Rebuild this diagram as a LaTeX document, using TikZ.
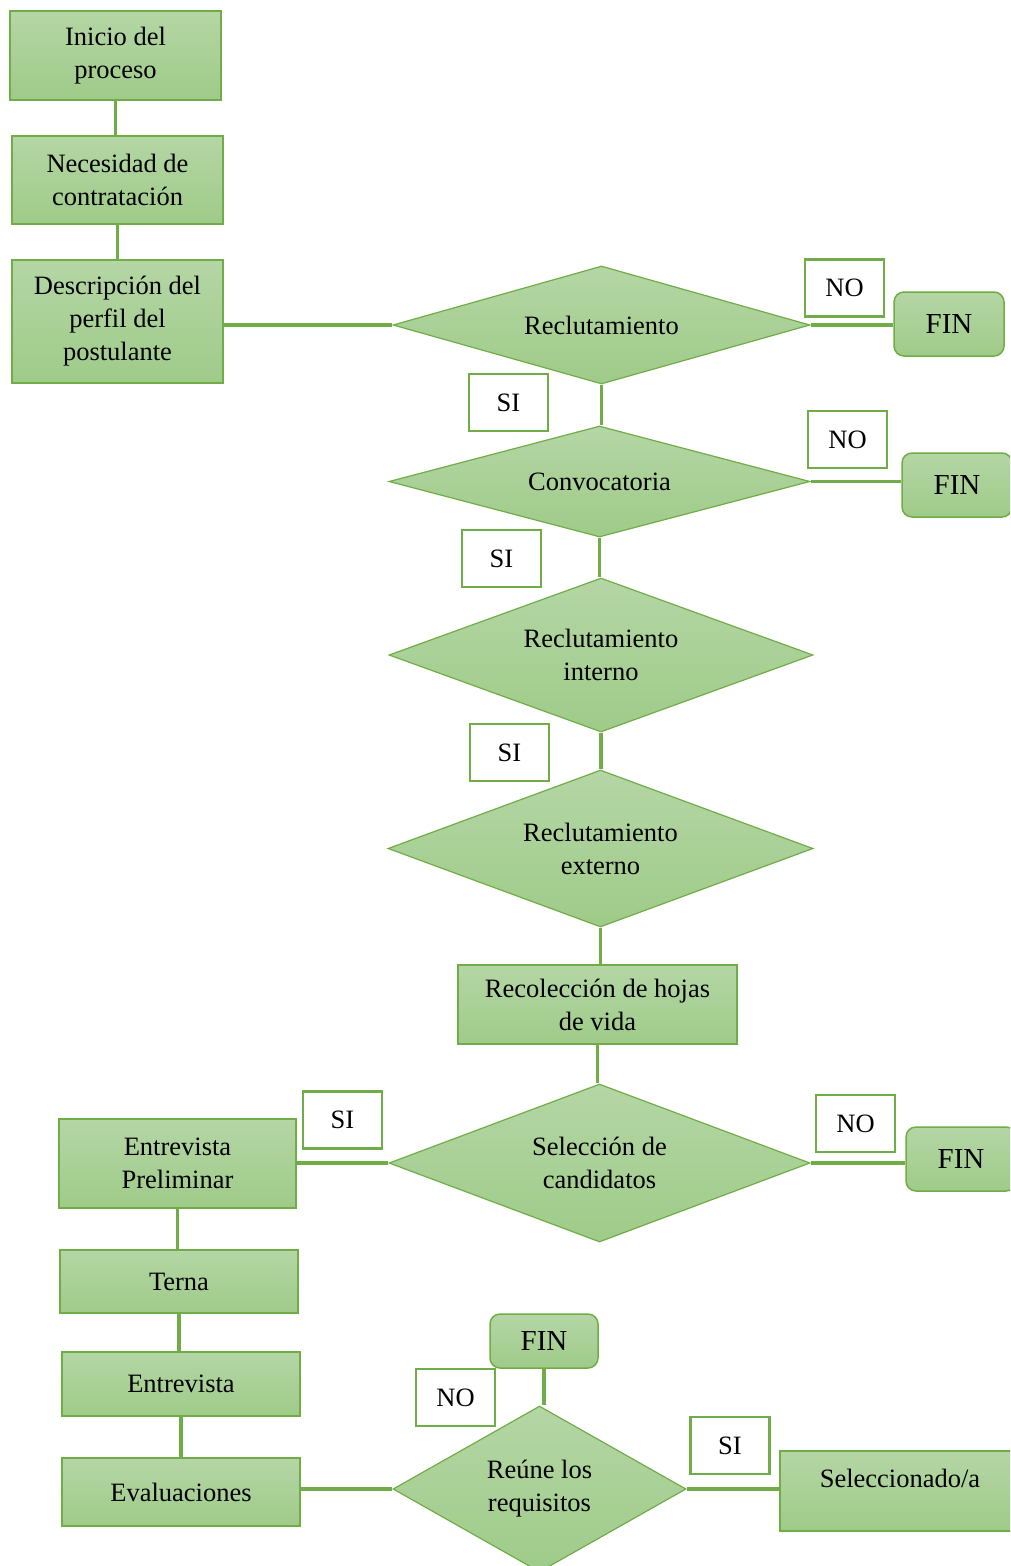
\documentclass[tikz,border=0pt]{standalone}
\usepackage{fontspec}
\setmainfont{Liberation Serif}
\usetikzlibrary{shapes.geometric}
\definecolor{gline}{HTML}{70AD47}
\definecolor{gtop}{HTML}{B4D6A5}
\definecolor{gbot}{HTML}{9FCB89}
\tikzset{
  base/.style={font=\fontsize{26.5}{33}\selectfont, align=center, inner sep=0pt},
  proc/.style={base, rectangle, draw=gline, line width=1.5pt, top color=gtop, bottom color=gbot},
  finbox/.style={base, rectangle, rounded corners=10pt, draw=gline, line width=1.5pt, top color=gtop, bottom color=gbot, minimum width=110pt, minimum height=64pt, font=\fontsize{29}{33}\selectfont},
  dec/.style={base, diamond, shape aspect=3.5, draw=gline, line width=1.2pt, top color=gtop, bottom color=gbot},
  lbl/.style={base, rectangle, draw=gline, line width=2.5pt, fill=white, minimum width=79pt, minimum height=57pt},
  conn/.style={draw=gline, line width=3.5pt},
}
\begin{document}
\begin{tikzpicture}[x=1pt,y=-1pt]
\useasboundingbox (0,0) rectangle (1010,1566);
\begin{scope}
\clip (0,0) rectangle (1010,1566);
% left column top
\node[proc, minimum width=211pt, minimum height=89pt] (inicio) at (115.5,55.5) {Inicio del\\proceso};
\node[proc, minimum width=211pt, minimum height=88pt] (necesidad) at (117.5,180) {Necesidad de\\contratación};
\node[proc, minimum width=211pt, minimum height=123pt] (descripcion) at (117.5,321.5) {Descripción del\\perfil del\\postulante};
% decisions
\node[dec, minimum width=417pt, minimum height=118pt] (recl) at (601.5,325) {Reclutamiento};
\node[dec, minimum width=421pt, minimum height=111pt] (conv) at (599.5,481.5) {Convocatoria};
\node[dec, minimum width=424pt, minimum height=154pt] (interno) at (601,655) {Reclutamiento\\interno};
\node[dec, minimum width=425pt, minimum height=157pt] (externo) at (600.5,848.5) {Reclutamiento\\externo};
\node[proc, minimum width=279pt, minimum height=79pt] (recoleccion) at (597.5,1004.5) {Recolección de hojas\\de vida};
\node[dec, minimum width=421pt, minimum height=158pt] (seleccion) at (599.5,1163) {Selección de\\candidatos};
% FIN boxes
\node[finbox] (fin1) at (949,324) {FIN};
\node[finbox] (fin2) at (957,485) {FIN};
\node[finbox] (fin3) at (961,1159) {FIN};
\node[finbox, minimum width=108pt, minimum height=54pt] (fin4) at (544,1341) {FIN};
% left column bottom
\node[proc, minimum width=237pt, minimum height=89pt] (prelim) at (177.5,1163.5) {Entrevista\\Preliminar};
\node[proc, minimum width=238pt, minimum height=63pt] (terna) at (179,1281.5) {Terna};
\node[proc, minimum width=238pt, minimum height=64pt] (entrevista) at (181,1384) {Entrevista};
\node[proc, minimum width=238pt, minimum height=68pt] (evaluaciones) at (181,1492) {Evaluaciones};
\node[dec, shape aspect=1.76, minimum width=293pt, minimum height=166pt] (reune) at (539.5,1489) {Reúne los\\requisitos};
\node[proc, minimum width=240pt, minimum height=80pt, align=left, text height=18pt, text depth=26pt] (selec) at (900,1491) {Seleccionado/a};
% connectors
\draw[conn] (inicio.south) -- (inicio.south |- necesidad.north);
\draw[conn] (necesidad.south) -- (necesidad.south |- descripcion.north);
\draw[conn] (recl.west -| descripcion.east) -- (recl.west);
\draw[conn] (recl.east) -- (recl.east -| fin1.west);
\draw[conn] (recl.south) -- (recl.south |- conv.north);
\draw[conn] (conv.east) -- (conv.east -| fin2.west);
\draw[conn] (conv.south) -- (conv.south |- interno.north);
\draw[conn] (interno.south) -- (interno.south |- externo.north);
\draw[conn] (externo.south) -- (externo.south |- recoleccion.north);
\draw[conn] (recoleccion.south) -- (recoleccion.south |- seleccion.north);
\draw[conn] (seleccion.east) -- (seleccion.east -| fin3.west);
\draw[conn] (seleccion.west) -- (seleccion.west -| prelim.east);
\draw[conn] (prelim.south) -- (prelim.south |- terna.north);
\draw[conn] (terna.south) -- (terna.south |- entrevista.north);
\draw[conn] (entrevista.south) -- (entrevista.south |- evaluaciones.north);
\draw[conn] (reune.west -| evaluaciones.east) -- (reune.west);
\draw[conn] (fin4.south) -- (fin4.south |- reune.north);
\draw[conn] (reune.east) -- (reune.east -| selec.west);
% labels
\node[lbl] (no1) at (844.5,288) {NO};
\node[lbl] (si1) at (508.5,402.5) {SI};
\node[lbl] (no2) at (847.5,439.5) {NO};
\node[lbl] (si2) at (501.5,558.5) {SI};
\node[lbl] (si3) at (509.5,752.5) {SI};
\node[lbl] (no3) at (855.5,1123.5) {NO};
\node[lbl] (si4) at (342.5,1120) {SI};
\node[lbl] (no4) at (455.5,1397.5) {NO};
\node[lbl] (si5) at (730,1445.5) {SI};
\end{scope}
\end{tikzpicture}
\end{document}
